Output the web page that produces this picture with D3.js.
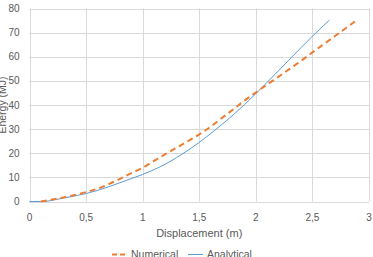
<!DOCTYPE html>
<meta charset="utf-8">
<script src="https://d3js.org/d3.v7.min.js"></script>
<style>
  body { margin: 0; background: #fff; }
  text { font-family: "Liberation Sans", Arial, sans-serif; fill: #595959; }
</style>
<div id="my_dataviz"></div>
<script>

// Numerical (FEM) curve
var numX = [0.1, 0.2, 0.3, 0.4, 0.5, 0.6, 0.7, 0.8, 0.9, 1.0, 1.1, 1.2, 1.3, 1.4, 1.5, 1.6, 1.7, 1.8, 1.9, 2.0, 2.1, 2.2, 2.3, 2.4, 2.5, 2.6, 2.7, 2.8, 2.9];
var numY = [0, 0.8, 1.7, 2.7, 3.9, 5.3, 7.2, 9.4, 11.8, 14.0, 16.8, 19.6, 22.3, 25.0, 27.8, 31.0, 34.6, 38.2, 41.8, 45.2, 48.5, 51.7, 55.0, 58.3, 61.8, 65.2, 68.6, 72.0, 75.5];

// Analytical curve
var anaX = [0, 0.1, 0.15, 0.2, 0.3, 0.4, 0.5, 0.6, 0.7, 0.8, 0.9, 1.0, 1.1, 1.2, 1.3, 1.4, 1.5, 1.6, 1.7, 1.8, 1.9, 2.0, 2.1, 2.2, 2.3, 2.4, 2.5, 2.6, 2.65];
var anaY = [0, 0, 0.1, 0.5, 1.4, 2.3, 3.3, 4.6, 6.1, 7.8, 9.5, 11.2, 13.2, 15.5, 18.2, 21.2, 24.5, 28.1, 31.9, 35.9, 40.2, 44.7, 49.4, 54.2, 59.0, 63.8, 68.5, 73.0, 75.2];

var xTicks = [0, 0.5, 1, 1.5, 2, 2.5, 3];
var yTicks = [0, 10, 20, 30, 40, 50, 60, 70, 80];
var seriesNames = ["Numerical", "Analytical"];
var seriesColors = ["#ED7D31", "#5B9BD5"];

var width = 373, height = 257;
var margin = {top: 8.5, right: 4, bottom: 55.5, left: 29.5};

var svg = d3.select("#my_dataviz")
  .append("svg")
  .attr("width", width)
  .attr("height", height);

var x = d3.scaleLinear().domain([0, 3]).range([margin.left, width - margin.right]);
var y = d3.scaleLinear().domain([0, 80]).range([height - margin.bottom, margin.top]);

// gridlines
svg.append("g")
  .selectAll("line")
  .data(yTicks)
  .enter().append("line")
  .attr("x1", x(0)).attr("x2", x(3))
  .attr("y1", function(d) { return Math.round(y(d)) + 0.5; })
  .attr("y2", function(d) { return Math.round(y(d)) + 0.5; })
  .attr("stroke", "#d9d9d9");

svg.append("g")
  .selectAll("line")
  .data(xTicks)
  .enter().append("line")
  .attr("y1", y(0)).attr("y2", y(80))
  .attr("x1", function(d) { return Math.round(x(d)) + 0.5; })
  .attr("x2", function(d) { return Math.round(x(d)) + 0.5; })
  .attr("stroke", "#d9d9d9");

// tick labels
var fmt = function(d) { return String(d).replace(".", ","); };

svg.append("g")
  .selectAll("text")
  .data(yTicks)
  .enter().append("text")
  .attr("x", 19.5)
  .attr("y", function(d) { return y(d) + 3.5; })
  .attr("text-anchor", "end")
  .style("font-size", "10px")
  .text(function(d) { return d; });

svg.append("g")
  .selectAll("text")
  .data(xTicks)
  .enter().append("text")
  .attr("x", function(d) { return x(d); })
  .attr("y", 220.5)
  .attr("text-anchor", "middle")
  .style("font-size", "10px")
  .text(fmt);

// axis titles
svg.append("text")
  .attr("x", (x(0) + x(3)) / 2)
  .attr("y", 237)
  .attr("text-anchor", "middle")
  .style("font-size", "11px")
  .text("Displacement (m)");

svg.append("text")
  .attr("transform", "translate(6," + ((y(0) + y(80)) / 2) + ") rotate(-90)")
  .attr("text-anchor", "middle")
  .style("font-size", "10.5px")
  .text("Energy (MJ)");

// lines
var line = d3.line()
  .curve(d3.curveMonotoneX)
  .x(function(d) { return x(d[0]); })
  .y(function(d) { return y(d[1]); });

var numData = numX.map(function(v, i) { return [v, numY[i]]; });
var anaData = anaX.map(function(v, i) { return [v, anaY[i]]; });

svg.append("path")
  .datum(anaData)
  .attr("d", line)
  .attr("fill", "none")
  .attr("stroke", seriesColors[1])
  .attr("stroke-width", 1);

svg.append("path")
  .datum(numData)
  .attr("d", line)
  .attr("fill", "none")
  .attr("stroke", seriesColors[0])
  .attr("stroke-width", 2)
  .attr("stroke-dasharray", "6,4");

// legend
var legendX = [112, 188];
var legend = svg.append("g");
seriesNames.forEach(function(name, i) {
  legend.append("line")
    .attr("x1", legendX[i]).attr("x2", legendX[i] + 15)
    .attr("y1", 254.5).attr("y2", 254.5)
    .attr("stroke", seriesColors[i])
    .attr("stroke-width", i === 0 ? 2 : 1)
    .attr("stroke-dasharray", i === 0 ? "5,3" : null);
  legend.append("text")
    .attr("x", legendX[i] + 19)
    .attr("y", 258)
    .style("font-size", "10.5px")
    .text(name);
});

</script>
